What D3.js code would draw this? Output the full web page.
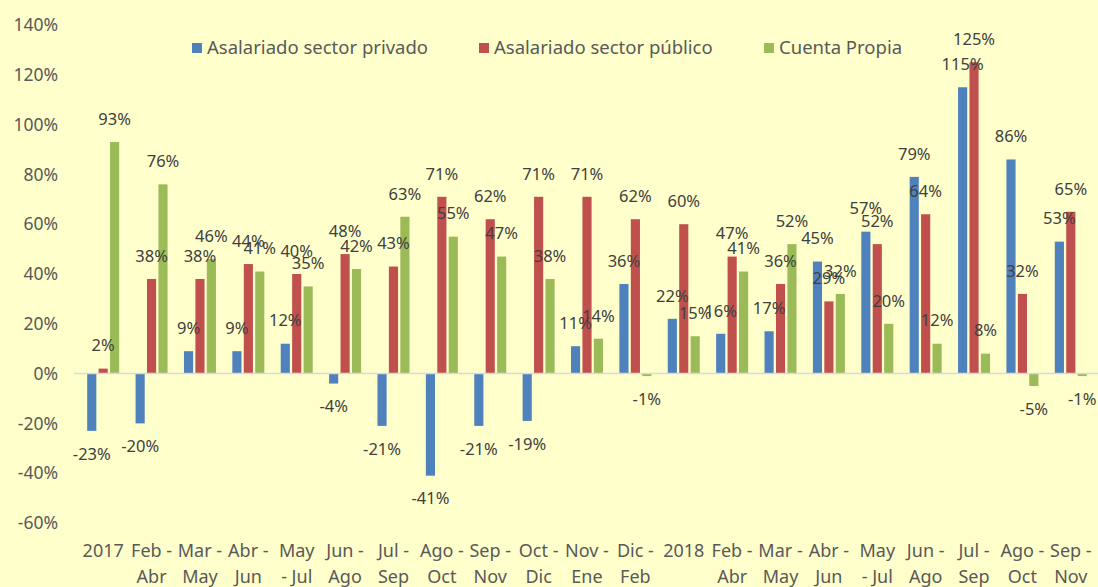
<!DOCTYPE html>
<html>
<head>
<meta charset="utf-8">
<script src="https://cdn.jsdelivr.net/npm/d3@7"></script>
<style>
  body { margin: 0; background: #ffffcc; }
  svg { display: block; font-family: "Noto Sans", sans-serif; }
</style>
</head>
<body>
<svg id="chart" width="1098" height="587"></svg>
<script>
// categories, split in two lines like the original axis
var catLine1 = ["2017", "Feb -", "Mar -", "Abr -", "May", "Jun -", "Jul -", "Ago -", "Sep -", "Oct -", "Nov -",
                "Dic -", "2018", "Feb -", "Mar -", "Abr -", "May", "Jun -", "Jul -", "Ago -", "Sep -"]
var catLine2 = ["", "Abr", "May", "Jun", "- Jul", "Ago", "Sep", "Oct", "Nov", "Dic", "Ene",
                "Feb", "", "Abr", "May", "Jun", "- Jul", "Ago", "Sep", "Oct", "Nov"]

var seriesNames = ["Asalariado sector privado", "Asalariado sector público", "Cuenta Propia"]
var privado = [-23, -20, 9, 9, 12, -4, -21, -41, -21, -19, 11, 36, 22, 16, 17, 45, 57, 79, 115, 86, 53]
var publico = [2, 38, 38, 44, 40, 48, 43, 71, 62, 71, 71, 62, 60, 47, 36, 29, 52, 64, 125, 32, 65]
var propia  = [93, 76, 46, 41, 35, 42, 63, 55, 47, 38, 14, -1, 15, 41, 52, 32, 20, 12, 8, -5, -1]

var yTicks = [-60, -40, -20, 0, 20, 40, 60, 80, 100, 120, 140]

;(function(){
  var svg = d3.select('#chart')
  var colors = ["#4f81bd", "#c0504d", "#9bbb59"]
  var seriesVals = [privado, publico, propia]

  var x0 = d3.scaleBand()
    .domain(d3.range(catLine1.length))
    .range([79, 1095])

  var x1 = d3.scaleBand()
    .domain([0, 1, 2])
    .range([0, 32])
    .paddingInner(0.2)

  var y = d3.scaleLinear()
    .domain([-60, 140])
    .range([523, 25])

  // y tick labels (no gridlines in the original)
  svg.append('g').selectAll('text')
    .data(yTicks).enter().append('text')
    .attr('x', 58)
    .attr('y', d => y(d))
    .attr('dy', '0.35em')
    .attr('text-anchor', 'end')
    .style('font-size', '17.5px')
    .style('fill', '#595959')
    .text(d => d + '%')

  // bars
  var groups = svg.append('g').selectAll('g')
    .data(d3.range(catLine1.length)).enter().append('g')
    .attr('transform', i => 'translate(' + (x0(i) + (x0.bandwidth() - 32) / 2) + ',0)')

  groups.selectAll('rect')
    .data(i => seriesVals.map((s, k) => ({ k: k, v: s[i] })))
    .enter().append('rect')
    .attr('x', d => x1(d.k))
    .attr('width', x1.bandwidth())
    .attr('y', d => y(Math.max(0, d.v)))
    .attr('height', d => Math.abs(y(d.v) - y(0)))
    .style('fill', d => colors[d.k])

  // zero line
  svg.append('line')
    .attr('x1', 74).attr('x2', 1098)
    .attr('y1', y(0)).attr('y2', y(0))
    .style('stroke', '#d9d9d9').style('stroke-width', 1.5)

  // data labels
  groups.selectAll('text.lbl')
    .data(i => seriesVals.map((s, k) => ({ k: k, v: s[i] })))
    .enter().append('text')
    .attr('class', 'lbl')
    .attr('x', d => x1(d.k) + x1.bandwidth() / 2)
    .attr('y', d => d.v >= 0 ? y(d.v) - 23 : y(d.v) + 23)
    .attr('dy', '0.35em')
    .attr('text-anchor', 'middle')
    .style('font-size', '16.5px')
    .style('fill', '#404040')
    .text(d => d.v + '%')

  // category labels
  var xl = svg.append('g').selectAll('text')
    .data(d3.range(catLine1.length)).enter().append('text')
    .attr('text-anchor', 'middle')
    .style('font-size', '18px')
    .style('fill', '#595959')
  xl.append('tspan')
    .attr('x', i => x0(i) + x0.bandwidth() / 2)
    .attr('y', 557)
    .text(i => catLine1[i])
  xl.append('tspan')
    .attr('x', i => x0(i) + x0.bandwidth() / 2)
    .attr('y', 583)
    .text(i => catLine2[i])

  // legend
  var legX = [192, 479, 764]
  var leg = svg.append('g').selectAll('g')
    .data(seriesNames).enter().append('g')
    .attr('transform', (d, i) => 'translate(' + legX[i] + ',48)')
  leg.append('rect')
    .attr('x', 0).attr('y', -5)
    .attr('width', 10).attr('height', 10)
    .style('fill', (d, i) => colors[i])
  leg.append('text')
    .attr('x', 15)
    .attr('dy', '0.35em')
    .style('font-size', '18.5px')
    .style('fill', '#595959')
    .text(d => d)
})()
</script>
</body>
</html>
